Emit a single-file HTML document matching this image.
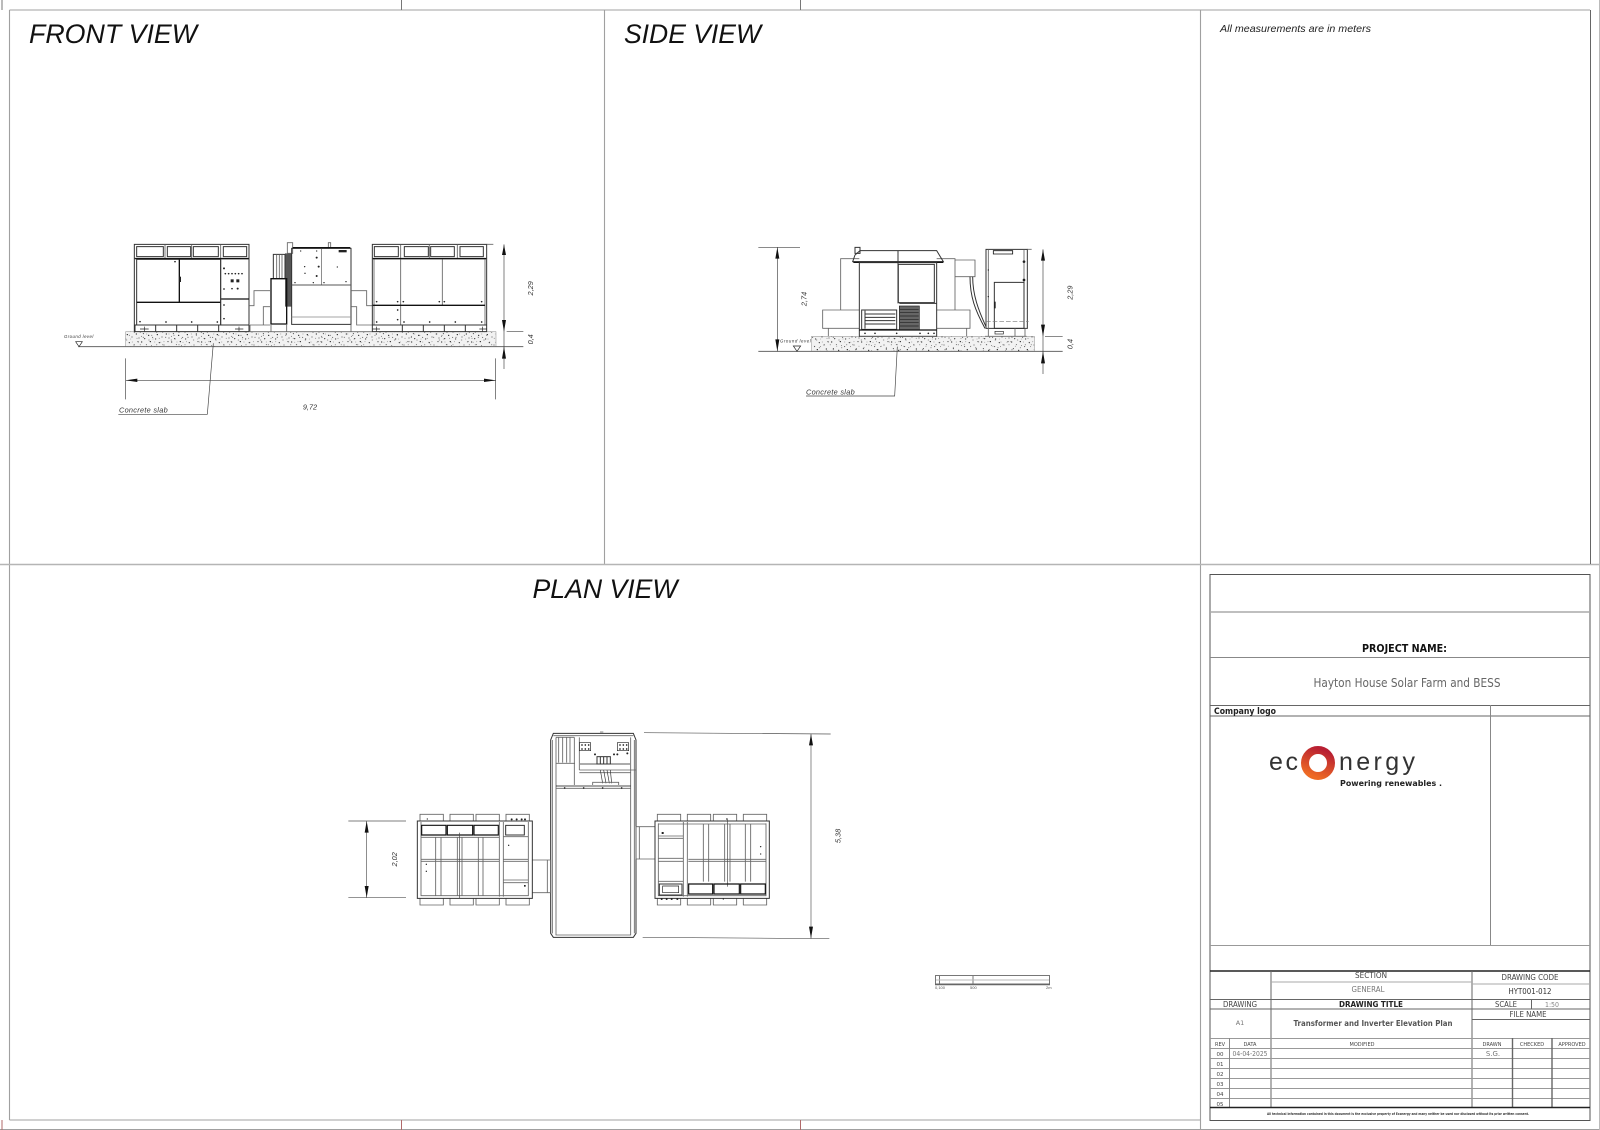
<!DOCTYPE html>
<html lang="en">
<head>
<meta charset="utf-8">
<title>Transformer and Inverter Elevation Plan</title>
<style>
html,body{margin:0;padding:0;background:#fff;width:1600px;height:1130px;overflow:hidden}
svg{display:block;filter:blur(.3px)}
text{font-family:"Liberation Sans",sans-serif}
.d{font-family:"DejaVu Sans",sans-serif}
.i{font-style:italic}
.l{fill:none;stroke:#222;stroke-width:2}
.t{fill:none;stroke:#111;stroke-width:4}
.m{fill:none;stroke:#333;stroke-width:3}
.g{fill:none;stroke:#666;stroke-width:2.6}
</style>
</head>
<body>
<svg xmlns="http://www.w3.org/2000/svg" width="1600" height="1130" viewBox="0 0 1600 1130">
<defs>
<pattern id="sp" width="90" height="45" patternUnits="userSpaceOnUse">
<g fill="#222">
<circle cx="5" cy="6" r="1.8"/><circle cx="19" cy="14" r="1.4"/><circle cx="31" cy="5" r="1.9"/><circle cx="44" cy="20" r="1.5"/><circle cx="58" cy="8" r="1.8"/><circle cx="72" cy="15" r="1.4"/><circle cx="84" cy="5" r="1.7"/>
<circle cx="10" cy="26" r="1.6"/><circle cx="26" cy="31" r="1.9"/><circle cx="38" cy="37" r="1.4"/><circle cx="52" cy="29" r="1.9"/><circle cx="66" cy="36" r="1.5"/><circle cx="79" cy="27" r="1.8"/><circle cx="87" cy="39" r="1.5"/>
<circle cx="14" cy="41" r="1.8"/><circle cx="47" cy="42" r="1.7"/><circle cx="62" cy="20" r="1.2"/><circle cx="34" cy="17" r="1.2"/><circle cx="4" cy="34" r="1.2"/>
</g>
</pattern>
<pattern id="sp2" width="67" height="37" patternUnits="userSpaceOnUse">
<g fill="#555">
<circle cx="3" cy="4" r="1.3"/><circle cx="12" cy="19" r="1.6"/><circle cx="22" cy="9" r="1.2"/><circle cx="29" cy="27" r="1.5"/><circle cx="37" cy="13" r="1.4"/><circle cx="46" cy="33" r="1.2"/><circle cx="52" cy="4" r="1.5"/><circle cx="60" cy="22" r="1.3"/><circle cx="7" cy="32" r="1.2"/><circle cx="41" cy="24" r="1"/><circle cx="64" cy="34" r="1.1"/>
</g>
</pattern>
<linearGradient id="ring" x1="0.7" y1="0" x2="0.3" y2="1"><stop offset="0" stop-color="#b81f32"/><stop offset="1" stop-color="#ee6a24"/></linearGradient>
</defs>

<!-- sheet frame -->
<g fill="none" stroke="#a0a0a0" stroke-width="1.1">
<path d="M9.5 10H1590M9.5 10V1120M604.5 10V564M1200.5 10V1130M9.5 1120H1200"/>
<path d="M0 564.5H1599" stroke="#b5b5b5" stroke-width="1.4"/>
<path d="M0 1129.5H1600"/>
</g>
<path d="M1590.5 10V564" stroke="#666" stroke-width="1" fill="none"/>
<path d="M1599.5 0V1130" stroke="#bbb" stroke-width="1" fill="none"/>
<path d="M2 0V10M401.5 0V10M800.5 0V10" stroke="#777" stroke-width="1" fill="none"/>
<path d="M2 1120V1130M401.5 1120V1130M800.5 1120V1130" stroke="#b06a6a" stroke-width="1" fill="none"/>

<!-- titles -->
<text class="i" x="29" y="43" font-size="27" textLength="168" lengthAdjust="spacingAndGlyphs" fill="#111">FRONT VIEW</text>
<text class="i" x="624" y="43" font-size="27" textLength="137" lengthAdjust="spacingAndGlyphs" fill="#111">SIDE VIEW</text>
<text class="i" x="532.5" y="598" font-size="27" textLength="145" lengthAdjust="spacingAndGlyphs" fill="#111">PLAN VIEW</text>
<text class="i" x="1220" y="32" font-size="10.5" textLength="151" lengthAdjust="spacingAndGlyphs" fill="#222">All measurements are in meters</text>

<!-- FRONT VIEW -->
<g transform="translate(50 220) scale(.33333)">
<rect x="227" y="335" width="1111" height="45" fill="#f2f2f2"/>
<rect x="227" y="335" width="1111" height="45" fill="url(#sp)"/>
<rect x="227" y="335" width="1111" height="45" fill="url(#sp2)" stroke="#555" stroke-width="1"/>
<path d="M85 380H1420" stroke="#666" stroke-width="3" fill="none"/>
<text class="i" x="42" y="354" font-size="13" textLength="88" fill="#333">Ground level</text>
<path d="M77 365H97L87 380Z" class="l"/>

<!-- left cabinet -->
<path class="m" d="M253 73H597V335H253ZM253 115H597"/>
<path class="g" d="M345 73V115M425 73V115M512 73V115"/>
<path class="m" d="M260 80H340V110H260ZM352 80H422V110H352ZM430 80H505V110H430ZM520 80H590V110H520Z"/>
<path class="t" d="M256 116H596"/>
<path class="m" d="M260 118H512V315H260Z"/>
<path class="t" d="M388 118V247M260 247H512"/>
<path class="m" d="M512 118V315M512 237H597"/>
<path class="t" d="M514 237H597"/>
<path class="m" d="M253 315H597M255 315V335M317 315V335M380 315V335M443 315V335M506 315V335"/>
<path class="l" d="M270 327H296M283 320V334M555 327H580M567 320V334"/>
<g fill="#222"><circle cx="375" cy="125" r="2.5"/><circle cx="270" cy="305" r="2.5"/><circle cx="348" cy="306" r="2.5"/><circle cx="425" cy="306" r="2.5"/><circle cx="502" cy="306" r="2.5"/><circle cx="522" cy="145" r="3"/><circle cx="526" cy="161" r="2.5"/><circle cx="536" cy="161" r="2.5"/><circle cx="546" cy="161" r="2.5"/><circle cx="556" cy="161" r="2.5"/><circle cx="566" cy="161" r="2.5"/><circle cx="576" cy="161" r="2.5"/><rect x="542" y="178" width="9" height="9"/><rect x="559" y="178" width="9" height="9"/><circle cx="522" cy="207" r="2.5"/><circle cx="546" cy="206" r="2.5"/><circle cx="563" cy="206" r="3"/><circle cx="522" cy="255" r="2.5"/><circle cx="522" cy="296" r="2.5"/><rect x="388" y="170" width="5" height="16"/></g>

<!-- connectors -->
<path class="g" d="M597 257H612V212H660M640 315V260H660M600 315H660"/>
<path class="g" d="M905 212H950V257H967M905 260H920V315H967M600 335V315"/>

<!-- transformer -->
<path d="M705 100H725V260H705Z" fill="#555"/>
<path class="m" d="M670 103H705V176H670Z"/>
<path class="g" d="M680 103V176M688 103V176M696 103V176"/>
<path class="t" d="M663 176H710V312H663Z"/>
<path class="g" d="M712 68H728V100H712ZM835 68H842V83H835Z"/>
<path class="m" d="M725 85H903V313H725Z"/>
<path class="t" d="M728 83H901"/>
<path d="M725 195H903" stroke="#555" stroke-width="3" fill="none"/>
<path d="M815 85V195" stroke="#555" stroke-width="2" fill="none"/>
<path d="M725 291H903" stroke="#888" stroke-width="2.5" fill="none"/>
<path class="g" d="M663 312V335M710 312V335M903 313V335M600 335H967"/>
<g fill="#222"><rect x="866" y="90" width="24" height="7"/><circle cx="800" cy="113" r="3"/><circle cx="764" cy="140" r="2"/><circle cx="806" cy="140" r="3"/><circle cx="862" cy="141" r="2"/><circle cx="800" cy="168" r="3"/><circle cx="765" cy="160" r="2"/><circle cx="735" cy="188" r="2"/><circle cx="790" cy="188" r="2"/><circle cx="822" cy="188" r="2"/><circle cx="888" cy="185" r="2"/><circle cx="752" cy="93" r="2"/><circle cx="800" cy="93" r="2"/></g>

<!-- right cabinet -->
<path class="m" d="M967 73H1310V335H967ZM967 115H1310"/>
<path class="g" d="M1310 73H1330M1052 73V115M1138 73V115M1222 73V115"/>
<path class="m" d="M973 80H1045V110H973ZM1063 80H1135V110H1063ZM1142 80H1213V110H1142ZM1230 80H1300V110H1230Z"/>
<path class="t" d="M969 116H1308"/>
<path class="g" d="M972 118V315M1052 118V315M1177 118V255M1305 118V315"/>
<path class="t" d="M968 256H1305"/>
<path class="m" d="M967 315H1310M1057 315V335M1120 315V335M1183 315V335M1246 315V335"/>
<path class="l" d="M968 327H990M979 320V334M1288 327H1310M1298 320V334"/>
<g fill="#222"><circle cx="980" cy="245" r="2.5"/><circle cx="1043" cy="245" r="2.5"/><circle cx="1060" cy="245" r="2.5"/><circle cx="1168" cy="245" r="2.5"/><circle cx="1183" cy="245" r="2.5"/><circle cx="1295" cy="245" r="2.5"/><circle cx="1043" cy="270" r="2.5"/><circle cx="1043" cy="299" r="2.5"/><circle cx="980" cy="306" r="2.5"/><circle cx="1062" cy="306" r="2.5"/><circle cx="1139" cy="306" r="2.5"/><circle cx="1216" cy="306" r="2.5"/><circle cx="1295" cy="306" r="2.5"/></g>

<!-- dims -->
<path d="M1362 73V447M1370 335H1420M227 481H1338M227 415V538M1337 415V538" style="stroke:#444;stroke-width:2" fill="none"/>
<path d="M1362 74L1356 105H1368ZM1362 335L1356 300H1368ZM1362 380L1356 416H1368ZM227 481L262 476V486ZM1338 481L1302 476V486Z" fill="#111"/>
<text class="i" transform="translate(1449 205) rotate(-90)" text-anchor="middle" font-size="22" fill="#333">2,29</text>
<text class="i" transform="translate(1449 358) rotate(-90)" text-anchor="middle" font-size="22" fill="#333">0,4</text>
<text class="i" x="780" y="569" text-anchor="middle" font-size="22" fill="#333">9,72</text>
<text class="i" x="207" y="578" font-size="22" textLength="146" fill="#333">Concrete slab</text>
<path d="M205 583H472L490 370" style="stroke:#444;stroke-width:2" fill="none"/>
</g>

<!-- SIDE VIEW -->
<g transform="translate(740 220) scale(.33333)">
<rect x="215" y="349" width="668" height="45" fill="#f2f2f2"/>
<rect x="215" y="349" width="668" height="45" fill="url(#sp)"/>
<rect x="215" y="349" width="668" height="45" fill="url(#sp2)" stroke="#555" stroke-width="1"/>
<path d="M55 394H968" stroke="#666" stroke-width="3" fill="none"/>
<path d="M55 82H180M112 82V394M915 349H968M909 88V462" style="stroke:#444;stroke-width:2" fill="none"/>
<path d="M112 82L106 116H118ZM112 394L106 358H118ZM909 88L903 122H915ZM909 349L903 314H915ZM909 394L903 430H915Z" fill="#111"/>
<text class="i" transform="translate(199 237) rotate(-90)" text-anchor="middle" font-size="22" fill="#333">2,74</text>
<text class="i" transform="translate(997 218) rotate(-90)" text-anchor="middle" font-size="22" fill="#333">2,29</text>
<text class="i" transform="translate(997 372) rotate(-90)" text-anchor="middle" font-size="22" fill="#333">0,4</text>
<text class="i" x="120" y="367" font-size="13" textLength="92" fill="#333">Ground level</text>
<path d="M160 378H182L171 394Z" class="l"/>
<text class="i" x="198" y="523" font-size="22" textLength="146" fill="#333">Concrete slab</text>
<path d="M198 528H464L472 380" style="stroke:#444;stroke-width:2" fill="none"/>

<!-- back boxes -->
<path class="g" d="M358 116H302V270H358M590 116H645V270H590M645 120H705V170H645M358 270H248V325H358M590 270H690V325H590M265 325V349M680 325V349M248 325H265"/>
<!-- roof + body -->
<path class="m" d="M338 125L345 105L360 92H590L610 125Z"/>
<path class="t" d="M340 127H610"/>
<path class="m" d="M358 128H590V349H358Z"/>
<path class="m" d="M474 92V250M345 82H360V100H345Z"/>
<path class="m" d="M475 133H583V248H475Z"/>
<path class="m" d="M478 250H590"/>
<path class="m" d="M365 270H470V328H365Z"/>
<path class="m" d="M375 282H466M375 292H466M375 302H466M375 312H466M375 272V326"/>
<rect x="478" y="258" width="60" height="72" fill="#666" stroke="#222" stroke-width="2"/>
<path d="M480 268H536M480 278H536M480 288H536M480 298H536M480 308H536M480 318H536" stroke="#222" stroke-width="2" fill="none"/>
<path class="t" d="M358 330H590"/>
<path class="g" d="M360 349H590"/>
<g fill="#222"><circle cx="375" cy="340" r="2.5"/><circle cx="405" cy="340" r="2.5"/><circle cx="470" cy="340" r="2.5"/><circle cx="540" cy="340" r="2.5"/><circle cx="565" cy="340" r="2.5"/><circle cx="582" cy="340" r="2.5"/></g>
<!-- cable -->
<path d="M690 170C690 230 705 270 735 325M698 170C698 225 715 270 738 320" stroke="#333" stroke-width="3" fill="none"/>
<!-- right cabinet -->
<path class="m" d="M738 88H862V325H738Z"/>
<path class="t" d="M760 92H818V102H760Z" style="stroke-width:2.5"/>
<path class="g" d="M745 88V325M852 88V325"/>
<path class="m" d="M763 187H852V325H763Z"/>
<path d="M738 305H866" stroke="#777" stroke-width="2" stroke-dasharray="14 6" fill="none"/>
<path class="g" d="M745 325V349M825 325V349M855 325V349M735 349H860M862 88H875"/>
<rect x="765" y="334" width="25" height="8" fill="none" stroke="#222" stroke-width="2"/>
<g fill="#222"><circle cx="852" cy="125" r="4"/><circle cx="852" cy="180" r="4"/><circle cx="745" cy="150" r="2"/><circle cx="745" cy="230" r="2"/><rect x="762" y="245" width="5" height="20"/></g>
</g>

<!-- PLAN VIEW -->
<g transform="translate(340 720) scale(.33333)">
<!-- dims -->
<path d="M25 303H198M25 533H198M80 303V533M912 38L1472 42M908 652L1468 656M1413 42V655" style="stroke:#555;stroke-width:2" fill="none"/>
<path d="M80 303L74 338H86ZM80 533L74 498H86ZM1413 42L1407 76H1419ZM1413 655L1407 620H1419Z" fill="#111"/>
<text class="i" transform="translate(171 418) rotate(-90)" text-anchor="middle" font-size="22" fill="#333">2,02</text>
<text class="i" transform="translate(1501 348) rotate(-90)" text-anchor="middle" font-size="22" fill="#333">5,38</text>

<!-- center -->
<path class="m" d="M640 40H880L888 60V640L880 652H640L632 640V60Z"/>
<path class="g" d="M648 52V645H872V52M640 47H880M780 36H790M637 60V640M883 60V640"/>
<path class="t" d="M648 198H872" style="stroke-width:2.5"/>
<path class="g" d="M648 205H872M648 130H705M703 52V195M718 52V150M648 52H703M718 150H888M718 158H872"/>
<path class="g" d="M656 52V128M668 52V128M680 52V128M690 52V128"/>
<path class="l" d="M718 68H752V92H718ZM832 68H866V92H832ZM720 132H870"/>
<g fill="#222"><circle cx="726" cy="75" r="2.5"/><circle cx="736" cy="75" r="2.5"/><circle cx="746" cy="75" r="2.5"/><circle cx="726" cy="87" r="2.5"/><circle cx="736" cy="87" r="2.5"/><circle cx="746" cy="87" r="2.5"/><circle cx="840" cy="75" r="2.5"/><circle cx="850" cy="75" r="2.5"/><circle cx="860" cy="75" r="2.5"/><circle cx="840" cy="87" r="2.5"/><circle cx="850" cy="87" r="2.5"/><circle cx="860" cy="87" r="2.5"/><circle cx="765" cy="103" r="3"/><circle cx="822" cy="103" r="3"/><circle cx="832" cy="103" r="3"/><circle cx="862" cy="100" r="3"/><circle cx="674" cy="204" r="2.5"/><circle cx="731" cy="204" r="2.5"/><circle cx="788" cy="204" r="2.5"/><circle cx="845" cy="204" r="2.5"/></g>
<rect x="771" y="110" width="40" height="22" fill="none" stroke="#333" stroke-width="3"/>
<path d="M781 110V132M791 110V132M801 110V132" stroke="#333" stroke-width="3" fill="none"/>
<path d="M781 150L788 190M791 150L798 190M801 150L808 190M811 150L815 190" stroke="#333" stroke-width="2" fill="none"/>
<path class="g" d="M758 195V187H836V195"/>

<!-- left unit -->
<path class="g" d="M577 420H632V518H577M622 420V518"/>
<path class="g" d="M240 303V283H310V303M330 303V283H400V303M408 303V283H478V303M498 303V283H568V303M240 535V555H310V535M330 535V555H400V535M408 535V555H478V535M498 535V555H568V535"/>
<path class="m" d="M232 303H577V535H232Z"/>
<path class="g" d="M243 306V527H565V306M243 527H565"/>
<path class="t" d="M245 316H318V345H245ZM322 316H398V345H322ZM402 316H475V345H402Z" style="stroke-width:3.5"/>
<path class="m" d="M497 316H553V345H497Z"/>
<path class="g" d="M243 352H478M478 306V530M490 306V530M490 350H565M243 418H478M243 424H478M490 418H565M490 424H565M287 352V527M303 352V527M352 352V527M366 352V527M415 352V527M429 352V527M490 480H565M490 488H565"/>
<path d="M358 338V535" stroke="#444" stroke-width="2" fill="none"/>
<g fill="#222"><rect x="552" y="495" width="5" height="5"/><circle cx="259" cy="433" r="2"/><circle cx="259" cy="454" r="2"/><circle cx="506" cy="376" r="2"/><circle cx="262" cy="297" r="2"/><circle cx="515" cy="298" r="3"/><circle cx="530" cy="298" r="3"/><circle cx="545" cy="298" r="3"/><circle cx="555" cy="298" r="3"/></g>

<!-- right unit -->
<path class="g" d="M945 320H888V417H945M898 320V417"/>
<path class="g" d="M952 303V283H1022V303M1042 303V283H1112V303M1120 303V283H1190V303M1210 303V283H1280V303M952 535V555H1022V535M1042 535V555H1112V535M1120 535V555H1190V535M1210 535V555H1280V535"/>
<path class="m" d="M945 303H1288V535H945Z"/>
<path class="g" d="M955 310V527H1278V310M955 312H1278M1030 306V530M1042 306V530M955 348H1030M955 355H1030M955 415H1030M955 424H1030M1045 418H1278M1045 424H1278M1090 312V485M1106 312V485M1154 312V485M1170 312V485M1216 312V485M1232 312V485M955 484H1030"/>
<path d="M1162 295V500" stroke="#444" stroke-width="2" fill="none"/>
<path class="t" d="M1046 492H1118V522H1046ZM1122 492H1198V522H1122ZM1202 492H1276V522H1202Z" style="stroke-width:3.5"/>
<path class="m" d="M958 492H1026V525H958Z"/>
<path class="l" d="M968 498H1016V518H968Z"/>
<g fill="#222"><rect x="965" y="336" width="6" height="6"/><circle cx="1262" cy="380" r="2"/><circle cx="1262" cy="402" r="2"/><circle cx="1160" cy="297" r="2"/><circle cx="965" cy="537" r="3"/><circle cx="980" cy="537" r="3"/><circle cx="995" cy="537" r="3"/><circle cx="1012" cy="537" r="3"/><circle cx="1150" cy="537" r="2"/></g>
</g>

<!-- scale bar -->
<g fill="none" stroke="#777" stroke-width="1">
<rect x="935.5" y="975.5" width="114" height="8.5"/>
<path d="M939.5 975V984M973 975V984"/>
<path d="M936 980H1049" stroke="#bbb"/>
<path d="M935 984.5H1050" stroke="#666" stroke-width="1.4"/>
</g>
<g font-size="4" fill="#555"><text x="935" y="989">0,100</text><text x="970" y="989">500</text><text x="1046" y="989">2m</text></g>

<!-- title block -->
<g fill="none">
<rect x="1210" y="574.5" width="380" height="546" stroke="#555" stroke-width="1"/>
<path d="M1210 612H1590" stroke="#aaa" stroke-width="1.5"/>
<path d="M1210 657.5H1590" stroke="#888" stroke-width="1"/>
<path d="M1210 705.5H1590M1210 716H1590" stroke="#666" stroke-width="1"/>
<path d="M1490.5 705V946" stroke="#888" stroke-width="1"/>
<path d="M1210 945.5H1590" stroke="#999" stroke-width="1"/>
<path d="M1210 971H1590" stroke="#222" stroke-width="1.5"/>
<path d="M1271 971V1108M1472 971V1108" stroke="#666" stroke-width="1"/>
<path d="M1271 982H1472M1472 984H1590" stroke="#aaa" stroke-width="1"/>
<path d="M1210 999.5H1590M1210 1009H1590M1472 1019.5H1590" stroke="#666" stroke-width="1"/>
<path d="M1531.5 999V1009" stroke="#666" stroke-width="1"/>
<path d="M1210 1038.5H1590M1210 1048.5H1590M1210 1058.5H1590M1210 1068.5H1590M1210 1078.5H1590M1210 1088.5H1590M1210 1098.5H1590" stroke="#999" stroke-width="1"/>
<path d="M1229.5 1038V1108" stroke="#888" stroke-width="1"/>
<path d="M1512.5 1038V1108M1552 1038V1108" stroke="#666" stroke-width="1.4"/>
<path d="M1210 1107.5H1590" stroke="#222" stroke-width="1.5"/>
</g>

<text class="d" x="1404.5" y="652" text-anchor="middle" font-size="10.5" font-weight="bold" textLength="85" lengthAdjust="spacingAndGlyphs" fill="#111">PROJECT NAME:</text>
<text class="d" x="1407" y="687" text-anchor="middle" font-size="12" textLength="187" lengthAdjust="spacingAndGlyphs" fill="#666">Hayton House Solar Farm and BESS</text>
<text class="d" x="1214" y="714" font-size="8.5" font-weight="bold" textLength="62" lengthAdjust="spacingAndGlyphs" fill="#222">Company logo</text>

<!-- logo -->
<text x="1269" y="770" font-size="25" textLength="29" fill="#333">ec</text>
<circle cx="1318" cy="763" r="13" fill="none" stroke="url(#ring)" stroke-width="8"/>
<text x="1339" y="770" font-size="25" textLength="76" fill="#333">nergy</text>
<text class="d" x="1340" y="786" font-size="7.5" font-weight="bold" textLength="102" lengthAdjust="spacingAndGlyphs" fill="#222">Powering renewables .</text>

<!-- table text -->
<g class="d" text-anchor="middle" fill="#444">
<text class="d" x="1371" y="978" font-size="7.5" text-anchor="middle" textLength="32" lengthAdjust="spacingAndGlyphs">SECTION</text>
<text class="d" x="1368" y="992" font-size="7.5" text-anchor="middle" textLength="33" lengthAdjust="spacingAndGlyphs" fill="#777">GENERAL</text>
<text class="d" x="1530" y="980" font-size="7.5" text-anchor="middle" textLength="57" lengthAdjust="spacingAndGlyphs">DRAWING CODE</text>
<text class="d" x="1530" y="994" font-size="7.5" text-anchor="middle" textLength="43" lengthAdjust="spacingAndGlyphs" fill="#333">HYT001-012</text>
<text class="d" x="1240" y="1007" font-size="7.5" text-anchor="middle" textLength="34" lengthAdjust="spacingAndGlyphs">DRAWING</text>
<text class="d" x="1371" y="1007" font-size="7.5" font-weight="bold" text-anchor="middle" textLength="64" lengthAdjust="spacingAndGlyphs" fill="#222">DRAWING TITLE</text>
<text class="d" x="1506" y="1007" font-size="7.5" text-anchor="middle" textLength="22" lengthAdjust="spacingAndGlyphs">SCALE</text>
<text class="d" x="1552" y="1007" font-size="7" text-anchor="middle" textLength="14" lengthAdjust="spacingAndGlyphs" fill="#888">1:50</text>
<text class="d" x="1528" y="1017" font-size="7.5" text-anchor="middle" textLength="37" lengthAdjust="spacingAndGlyphs">FILE NAME</text>
<text class="d" x="1240" y="1025" font-size="6.5" text-anchor="middle" fill="#777">A1</text>
<text class="d" x="1373" y="1026" font-size="8" font-weight="bold" text-anchor="middle" textLength="159" lengthAdjust="spacingAndGlyphs" fill="#555">Transformer and Inverter Elevation Plan</text>
<text class="d" x="1220" y="1046" font-size="5" text-anchor="middle">REV</text>
<text class="d" x="1250" y="1046" font-size="5" text-anchor="middle">DATA</text>
<text class="d" x="1362" y="1046" font-size="5" text-anchor="middle">MODIFIED</text>
<text class="d" x="1492" y="1046" font-size="5" text-anchor="middle">DRAWN</text>
<text class="d" x="1532" y="1046" font-size="5" text-anchor="middle">CHECKED</text>
<text class="d" x="1572" y="1046" font-size="5" text-anchor="middle">APPROVED</text>
<text class="d" x="1220" y="1056" font-size="5.5" text-anchor="middle">00</text>
<text class="d" x="1250" y="1056" font-size="7" text-anchor="middle" textLength="35" lengthAdjust="spacingAndGlyphs" fill="#777">04-04-2025</text>
<text class="d" x="1493" y="1056" font-size="7" text-anchor="middle" fill="#777">S.G.</text>
<text class="d" x="1220" y="1066" font-size="5.5" text-anchor="middle">01</text>
<text class="d" x="1220" y="1076" font-size="5.5" text-anchor="middle">02</text>
<text class="d" x="1220" y="1086" font-size="5.5" text-anchor="middle">03</text>
<text class="d" x="1220" y="1096" font-size="5.5" text-anchor="middle">04</text>
<text class="d" x="1220" y="1106" font-size="5.5" text-anchor="middle">05</text>
<text class="d" x="1398" y="1115" font-size="3.5" font-weight="bold" text-anchor="middle" textLength="262" lengthAdjust="spacingAndGlyphs" fill="#333">All technical information contained in this document is the exclusive property of Econergy and many neither be used nor disclosed without its prior written consent.</text>
</g>
</svg>
</body>
</html>
